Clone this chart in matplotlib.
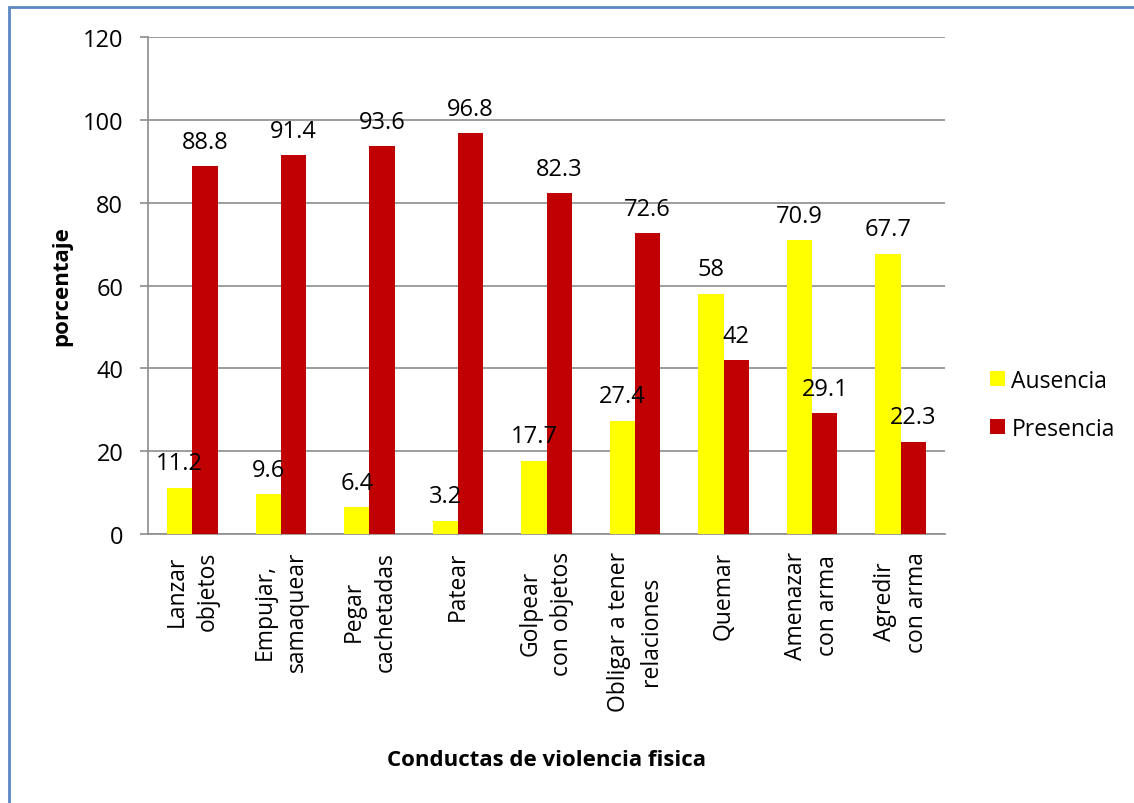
import numpy as np
import matplotlib.pyplot as plt
from matplotlib.patches import Rectangle

plt.rcParams['font.family'] = ['Open Sans', 'DejaVu Sans']

categorias = ["Lanzar\nobjetos", "Empujar,\nsamaquear", "Pegar\ncachetadas", "Patear",
              "Golpear\ncon objetos", "Obligar a tener\nrelaciones", "Quemar",
              "Amenazar\ncon arma", "Agredir\ncon arma"]
ausencia = [11.2, 9.6, 6.4, 3.2, 17.7, 27.4, 58, 70.9, 67.7]
presencia = [88.8, 91.4, 93.6, 96.8, 82.3, 72.6, 42, 29.1, 22.3]
yticks = [0, 20, 40, 60, 80, 100, 120]

fig = plt.figure(figsize=(11.34, 8.04), dpi=100)

# outer chart frame (only left/top edges fall inside the image)
fig.patches.append(Rectangle((9 / 1134, -0.05), 1.2, 1 - 8 / 804 + 0.05,
                             transform=fig.transFigure, fill=False,
                             edgecolor='#5b87c5', linewidth=2.0))

ax = fig.add_axes([148 / 1134, 1 - 535 / 804, 797 / 1134, 497 / 804])

x = np.arange(len(categorias))
w = 0.285
ax.bar(x - w / 2, ausencia, w, color='#ffff00', label='Ausencia', zorder=3)
ax.bar(x + w / 2, presencia, w, color='#c00000', label='Presencia', zorder=3)

for xi, v in zip(x - w / 2, ausencia):
    ax.annotate(f"{v:g}", (xi, v), xytext=(0, 9), textcoords='offset points',
                ha='center', va='bottom', fontsize=17, color='black', zorder=4)
for xi, v in zip(x + w / 2, presencia):
    ax.annotate(f"{v:g}", (xi, v), xytext=(0, 9), textcoords='offset points',
                ha='center', va='bottom', fontsize=17, color='black', zorder=4)

ax.set_xlim(-0.5, len(categorias) - 0.5)
ax.set_ylim(0, 120)
ax.set_yticks(yticks)
ax.tick_params(axis='y', labelsize=17, length=5.8, width=1.2, color='#8c8c8c', pad=12)
ax.set_xticks(x)
ax.set_xticklabels(categorias, rotation=90, fontsize=16.5, multialignment='center',
                   va='top', ha='center', linespacing=1.44)
ax.tick_params(axis='x', length=0, pad=12)
ax.yaxis.grid(True, color='#8c8c8c', linewidth=1.2, zorder=0)
ax.set_axisbelow(True)

for s in ['top', 'right']:
    ax.spines[s].set_visible(False)
for s in ['left', 'bottom']:
    ax.spines[s].set_color('#8c8c8c')
    ax.spines[s].set_linewidth(1.2)

ax.set_ylabel('porcentaje', fontsize=16, fontweight='bold', va='center')
ax.yaxis.set_label_coords(-0.108, 0.5)
ax.set_xlabel('Conductas de violencia fisica', fontsize=16, fontweight='bold', va='center')
ax.xaxis.set_label_coords(0.5, -0.453)

ax.legend(loc='center left', bbox_to_anchor=(1.056, 0.26), frameon=False, fontsize=16.5,
          borderpad=0, borderaxespad=0, handlelength=0.65, handleheight=0.65,
          handletextpad=0.3, labelspacing=1.05)

fig.savefig('out.png', dpi=100)
